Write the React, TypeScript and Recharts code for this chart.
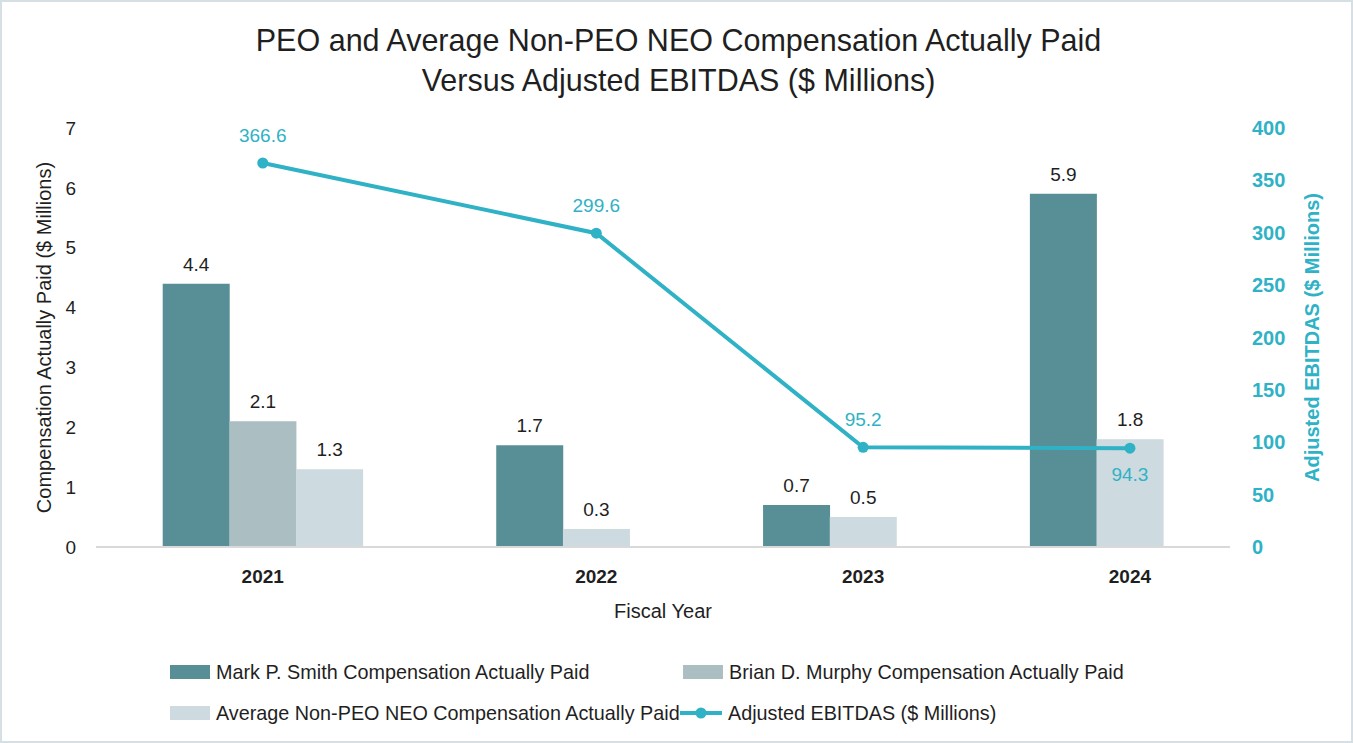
import React from 'react';
import {
  ComposedChart,
  Bar,
  Line,
  XAxis,
  YAxis,
  LabelList,
} from 'recharts';

// each fiscal year spans a few bar slots on the category axis
const slotYears = ['', '', '2021', '', '', '', '', '2022', '', '', '', '2023', '', '', '', '2024', ''];
const smithCap = [null, 4.4, null, null, null, null, 1.7, null, null, null, 0.7, null, null, null, 5.9, null, null];
const murphyCap = [null, null, 2.1, null, null, null, null, null, null, null, null, null, null, null, null, null, null];
const avgNeoCap = [null, null, null, 1.3, null, null, null, 0.3, null, null, null, 0.5, null, null, null, 1.8, null];
const ebitdas = [null, null, 366.6, null, null, null, null, 299.6, null, null, null, 95.2, null, null, null, 94.3, null];

const leftTicks = [0, 1, 2, 3, 4, 5, 6, 7];
const rightTicks = [0, 50, 100, 150, 200, 250, 300, 350, 400];

const COLORS = {
  smith: '#588e95',
  murphy: '#abbec2',
  avg: '#cddadf',
  line: '#30b2c6',
  text: '#1f1f1f',
};

const FONT = '"Liberation Sans", Arial, Helvetica, sans-serif';

const data = slotYears.map((year, i) => ({
  slot: i,
  year,
  smith: smithCap[i],
  murphy: murphyCap[i],
  avg: avgNeoCap[i],
  ebitdas: ebitdas[i],
}));

const lastLineIndex = ebitdas.reduce((acc: number, v, i) => (v != null ? i : acc), -1);

const BarValue = (props: any) => {
  const { x, y, width, value } = props;
  if (value == null || x == null) return null;
  return (
    <text x={x + width / 2} y={y - 13} textAnchor="middle" fontSize={19} fill={COLORS.text} fontFamily={FONT}>
      {Number(value).toFixed(1)}
    </text>
  );
};

const LineValue = (props: any) => {
  const { x, y, value, index } = props;
  if (value == null || y == null) return null;
  const below = index === lastLineIndex;
  return (
    <text
      x={x}
      y={below ? y + 33 : y - 21}
      textAnchor="middle"
      fontSize={19}
      fill={COLORS.line}
      fontFamily={FONT}
    >
      {Number(value).toFixed(1)}
    </text>
  );
};

const legendItems = [
  { label: 'Mark P. Smith Compensation Actually Paid', color: COLORS.smith, kind: 'bar', left: 170, top: 670 },
  { label: 'Brian D. Murphy Compensation Actually Paid', color: COLORS.murphy, kind: 'bar', left: 683, top: 670 },
  { label: 'Average Non-PEO NEO Compensation Actually Paid', color: COLORS.avg, kind: 'bar', left: 170, top: 711 },
  { label: 'Adjusted EBITDAS ($ Millions)', color: COLORS.line, kind: 'line', left: 680, top: 711 },
];

export default function App() {
  return (
    <div
      style={{
        position: 'absolute',
        left: 0,
        top: 0,
        width: 1353,
        height: 743,
        boxSizing: 'border-box',
        border: '2px solid #d6dfe3',
        background: '#fff',
        fontFamily: FONT,
        overflow: 'hidden',
      }}
    >
      <div
        style={{
          position: 'absolute',
          left: 0,
          top: 18,
          width: 1353,
          textAlign: 'center',
          fontSize: 30.5,
          lineHeight: '40px',
          color: COLORS.text,
        }}
      >
        PEO and Average Non-PEO NEO Compensation Actually Paid
        <br />
        Versus Adjusted EBITDAS ($ Millions)
      </div>

      <div style={{ position: 'absolute', left: -2, top: -2 }}>
        <ComposedChart
          width={1353}
          height={743}
          data={data}
          margin={{ top: 128, right: 43, bottom: 166, left: 36 }}
          barCategoryGap={0}
          barGap={0}
        >
          <XAxis
            dataKey="slot"
            type="category"
            interval={0}
            tickLine={false}
            axisLine={{ stroke: '#d9d9d9', strokeWidth: 2 }}
            tickMargin={17}
            tickFormatter={(i: number) => slotYears[i]}
            tick={{ fontSize: 19, fontWeight: 'bold', fill: COLORS.text, fontFamily: FONT }}
            label={{
              content: ({ viewBox }: any) => (
                <text
                  x={viewBox.x + viewBox.width / 2}
                  y={viewBox.y + 71}
                  textAnchor="middle"
                  fontSize={20}
                  fill={COLORS.text}
                  fontFamily={FONT}
                >
                  Fiscal Year
                </text>
              ),
            }}
          />
          <YAxis
            yAxisId="cap"
            orientation="left"
            width={60}
            domain={[0, 7]}
            ticks={leftTicks}
            tickLine={false}
            axisLine={false}
            tickMargin={14}
            tick={{ fontSize: 19, fill: COLORS.text, fontFamily: FONT }}
            label={{
              content: ({ viewBox }: any) => {
                const cx = viewBox.x + 8;
                const cy = viewBox.y + viewBox.height / 2;
                return (
                  <text
                    x={cx}
                    y={cy}
                    transform={`rotate(-90 ${cx} ${cy})`}
                    textAnchor="middle"
                    dominantBaseline="central"
                    fontSize={20}
                    fill={COLORS.text}
                    fontFamily={FONT}
                  >
                    Compensation Actually Paid ($ Millions)
                  </text>
                );
              },
            }}
          />
          <YAxis
            yAxisId="ebitdas"
            orientation="right"
            width={80}
            domain={[0, 400]}
            ticks={rightTicks}
            tickLine={false}
            axisLine={false}
            tickMargin={16}
            tick={{ fontSize: 20, fontWeight: 'bold', fill: COLORS.line, fontFamily: FONT }}
            label={{
              content: ({ viewBox }: any) => {
                const cx = viewBox.x + 82;
                const cy = viewBox.y + viewBox.height / 2;
                return (
                  <text
                    x={cx}
                    y={cy}
                    transform={`rotate(-90 ${cx} ${cy})`}
                    textAnchor="middle"
                    dominantBaseline="central"
                    fontSize={20}
                    fontWeight="bold"
                    fill={COLORS.line}
                    fontFamily={FONT}
                  >
                    Adjusted EBITDAS ($ Millions)
                  </text>
                );
              },
            }}
          />
          <Bar yAxisId="cap" dataKey="smith" stackId="cap" fill={COLORS.smith} isAnimationActive={false}>
            <LabelList dataKey="smith" content={BarValue} />
          </Bar>
          <Bar yAxisId="cap" dataKey="murphy" stackId="cap" fill={COLORS.murphy} isAnimationActive={false}>
            <LabelList dataKey="murphy" content={BarValue} />
          </Bar>
          <Bar yAxisId="cap" dataKey="avg" stackId="cap" fill={COLORS.avg} isAnimationActive={false}>
            <LabelList dataKey="avg" content={BarValue} />
          </Bar>
          <Line
            yAxisId="ebitdas"
            dataKey="ebitdas"
            type="linear"
            connectNulls
            stroke={COLORS.line}
            strokeWidth={4}
            dot={{ r: 5.5, fill: COLORS.line, stroke: COLORS.line, strokeWidth: 0 }}
            activeDot={false}
            isAnimationActive={false}
          >
            <LabelList dataKey="ebitdas" content={LineValue} />
          </Line>
        </ComposedChart>
      </div>

      {legendItems.map((item) => (
        <div
          key={item.label}
          style={{
            position: 'absolute',
            left: item.left - 2,
            top: item.top - 14,
            height: 28,
            display: 'flex',
            alignItems: 'center',
            fontSize: 19.8,
            color: COLORS.text,
            whiteSpace: 'nowrap',
          }}
        >
          {item.kind === 'bar' ? (
            <span style={{ display: 'inline-block', width: 40, height: 14, background: item.color, marginRight: 6 }} />
          ) : (
            <svg width={42} height={14} style={{ marginRight: 6 }}>
              <line x1={0} y1={7} x2={42} y2={7} stroke={item.color} strokeWidth={4} />
              <circle cx={21} cy={7} r={5.5} fill={item.color} />
            </svg>
          )}
          {item.label}
        </div>
      ))}
    </div>
  );
}
